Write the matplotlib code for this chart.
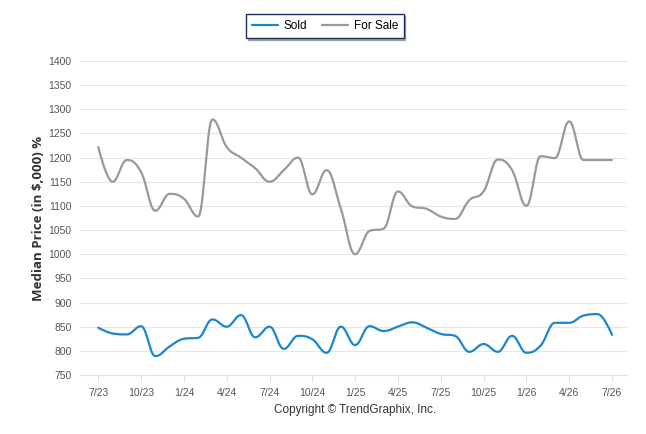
import numpy as np
import matplotlib
matplotlib.use('Agg')
import matplotlib.pyplot as plt

# monthly points, 7/23 .. 7/26
months = ['7/23', '8/23', '9/23', '10/23', '11/23', '12/23', '1/24', '2/24', '3/24',
          '4/24', '5/24', '6/24', '7/24', '8/24', '9/24', '10/24', '11/24', '12/24',
          '1/25', '2/25', '3/25', '4/25', '5/25', '6/25', '7/25', '8/25', '9/25',
          '10/25', '11/25', '12/25', '1/26', '2/26', '3/26', '4/26', '5/26', '6/26', '7/26']

sold = [848, 836, 834, 851, 789, 809, 825, 827, 865, 850, 874, 828, 850, 804, 831,
        824, 796, 850, 812, 851, 841, 850, 859, 848, 835, 831, 798, 814, 798, 831,
        796, 811, 858, 858, 873, 876, 833]

for_sale = [1222, 1150, 1195, 1170, 1090, 1125, 1115, 1078, 1279, 1222, 1200, 1178,
            1150, 1174, 1200, 1124, 1174, 1094, 1000, 1048, 1053, 1130, 1099, 1094,
            1078, 1073, 1112, 1130, 1196, 1174, 1100, 1203, 1199, 1275, 1195, 1195, 1195]

tick_labels = ['7/23', '10/23', '1/24', '4/24', '7/24', '10/24', '1/25',
               '4/25', '7/25', '10/25', '1/26', '4/26', '7/26']


def spline(ys, smoothing=1.5, n=20):
    # highcharts-like spline through the points
    xs = np.arange(len(ys), dtype=float)
    ys = np.asarray(ys, dtype=float)
    m = len(ys)
    lc = [(x, y) for x, y in zip(xs, ys)]
    rc = [(x, y) for x, y in zip(xs, ys)]
    d = smoothing + 1
    for i in range(1, m - 1):
        x, y = xs[i], ys[i]
        lx = (smoothing * x + xs[i - 1]) / d
        ly = (smoothing * y + ys[i - 1]) / d
        rx = (smoothing * x + xs[i + 1]) / d
        ry = (smoothing * y + ys[i + 1]) / d
        corr = (ry - ly) * (rx - x) / (rx - lx) + y - ry
        ly += corr
        ry += corr
        if ly > ys[i - 1] and ly > y:
            ly = max(ys[i - 1], y)
            ry = 2 * y - ly
        elif ly < ys[i - 1] and ly < y:
            ly = min(ys[i - 1], y)
            ry = 2 * y - ly
        if ry > ys[i + 1] and ry > y:
            ry = max(ys[i + 1], y)
            ly = 2 * y - ry
        elif ry < ys[i + 1] and ry < y:
            ry = min(ys[i + 1], y)
            ly = 2 * y - ry
        lc[i] = (lx, ly)
        rc[i] = (rx, ry)
    t = np.linspace(0, 1, n)[:, None]
    out = []
    for i in range(1, m):
        p0 = np.array([xs[i - 1], ys[i - 1]])
        p1 = np.array(rc[i - 1])
        p2 = np.array(lc[i])
        p3 = np.array([xs[i], ys[i]])
        seg = ((1 - t) ** 3) * p0 + 3 * ((1 - t) ** 2) * t * p1 + 3 * (1 - t) * t ** 2 * p2 + t ** 3 * p3
        out.append(seg if i == 1 else seg[1:])
    out = np.vstack(out)
    return out[:, 0], out[:, 1]


plt.rcParams['font.family'] = ['Liberation Sans', 'DejaVu Sans']

fig = plt.figure(figsize=(6.46, 4.34), dpi=100)
ax = fig.add_axes([80 / 646, 1 - 375 / 434, (627 - 80) / 646, (375 - 61) / 434])

sx, sy = spline(sold)
fx, fy = spline(for_sale)
l1, = ax.plot(sx, sy, color='#1a86d0', lw=1.6, label='Sold', solid_capstyle='round')
l2, = ax.plot(fx, fy, color='#999999', lw=1.6, label='For Sale', solid_capstyle='round')

ax.set_ylim(750, 1400)
ax.set_yticks(np.arange(750, 1401, 50))
ax.set_xlim(-1.28, 37.05)
tick_pos = [months.index(m) for m in tick_labels]
ax.set_xticks(tick_pos)
ax.set_xticklabels(tick_labels)

ax.grid(axis='y', color='#e6e6e6', lw=0.8)
ax.set_axisbelow(True)
for s in ['top', 'right', 'left']:
    ax.spines[s].set_visible(False)
ax.spines['bottom'].set_color('#e0e0e0')
ax.tick_params(axis='y', length=0, labelsize=7.5, labelcolor='#555555', pad=6)
ax.tick_params(axis='x', length=5, color='#e0e0e0', labelsize=7.5, labelcolor='#555555', pad=4)

ax.set_ylabel('Median Price (in $,000) %', fontsize=9.5, fontweight='bold',
              family=['Open Sans', 'DejaVu Sans'], color='#333333')
ax.yaxis.set_label_coords(-(80 - 45) / 547, 0.5)

leg = fig.legend(handles=[l1, l2], loc='center', bbox_to_anchor=(325 / 646, 1 - 26 / 434),
                 ncol=2, frameon=True, fancybox=False, fontsize=8.5, handlelength=2.2,
                 columnspacing=1.2, handletextpad=0.5, borderpad=0.5,
                 shadow={'ox': 1.2, 'oy': -1.2, 'color': '#7a7a7a', 'alpha': 0.6})
leg.get_frame().set_edgecolor('#1c2e5a')
leg.get_frame().set_linewidth(1.0)

fig.text(355 / 646, 1 - 410 / 434, 'Copyright \u00a9 TrendGraphix, Inc.', ha='center',
         va='center', fontsize=8.5, color='#333333')

fig.savefig('out.png', dpi=100)
